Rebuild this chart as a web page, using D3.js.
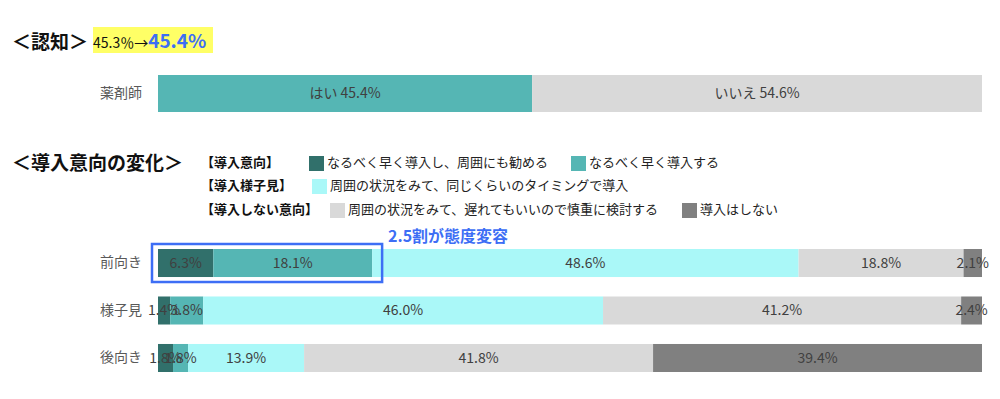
<!DOCTYPE html>
<html><head><meta charset="utf-8">
<script src="https://cdn.jsdelivr.net/npm/d3@7"></script>
<style>
html,body{margin:0;padding:0;background:#fff;}
svg{display:block;font-family:"Noto Sans CJK JP","Noto Sans",sans-serif;}
</style></head>
<body><svg id="c" width="1000" height="399"></svg>
<script>
// ---- data ----
const awarenessCategory = ["薬剤師"];
const awarenessKeys = ["はい", "いいえ"];
const awarenessValues = [45.4, 54.6];

const intentCategories = ["前向き", "様子見", "後向き"];
const intentKeys = ["なるべく早く導入し、周囲にも勧める", "なるべく早く導入する", "周囲の状況をみて、同じくらいのタイミングで導入", "周囲の状況をみて、遅れてもいいので慎重に検討する", "導入はしない"];
const intentFront = [6.3, 18.1, 48.6, 18.8, 2.1];
const intentWait = [1.4, 3.8, 46.0, 41.2, 2.4];
const intentBack = [1.8, 1.8, 13.9, 41.8, 39.4];
const segColors = ["#31706b", "#55b6b4", "#aaf8f8", "#d9d9d9", "#808080"];
const awarenessColors = ["#55b6b4", "#d9d9d9"];

const svg = d3.select("#c");
const x = d3.scaleLinear().domain([0, 1]).range([158, 982]);
const txt = "#404040";

// ---- titles ----
svg.append("text").attr("x", 12).attr("y", 49).attr("font-size", 19).attr("font-weight", "bold").attr("fill", "#111").text("＜認知＞");
svg.append("rect").attr("x", 93).attr("y", 27).attr("width", 120).attr("height", 26).attr("fill", "#ffff66");
const hl = svg.append("text").attr("x", 93).attr("y", 48);
hl.append("tspan").attr("font-size", 14).attr("fill", "#111").text("45.3％→");
hl.append("tspan").attr("font-size", 19).attr("font-weight", "bold").attr("fill", "#3d6ef5").text("45.4%");

// ---- awareness bar ----
const yTop = d3.scaleBand().domain(awarenessCategory).range([75, 112]);
const awRow = Object.fromEntries(awarenessKeys.map((k, i) => [k, awarenessValues[i]]));
const awStack = d3.stack().keys(awarenessKeys).offset(d3.stackOffsetExpand)([awRow]);
const gAw = svg.append("g");
awStack.forEach((s, i) => {
  const d = s[0];
  gAw.append("rect").attr("x", x(d[0])).attr("y", yTop(awarenessCategory[0]))
    .attr("width", x(d[1]) - x(d[0])).attr("height", yTop.bandwidth()).attr("fill", awarenessColors[i]);
  gAw.append("text").attr("x", (x(d[0]) + x(d[1])) / 2).attr("y", yTop(awarenessCategory[0]) + yTop.bandwidth() / 2)
    .attr("dy", "0.35em").attr("text-anchor", "middle").attr("font-size", 14).attr("fill", txt)
    .text(awarenessKeys[i] + " " + awarenessValues[i].toFixed(1) + "%");
});
svg.append("g").attr("transform", `translate(${x(0)},0)`)
  .call(d3.axisLeft(yTop).tickSize(0).tickPadding(16))
  .call(g => g.select(".domain").remove())
  .call(g => g.selectAll("text").attr("font-size", 14).attr("fill", "#595959").attr("font-family", "'Noto Sans CJK JP',sans-serif"));

// ---- second title and legend ----
svg.append("text").attr("x", 12).attr("y", 170).attr("font-size", 19).attr("font-weight", "bold").attr("fill", "#111").text("＜導入意向の変化＞");
const legendRows = [
  {head: "【導入意向】", items: [{k: 0, sx: 309}, {k: 1, sx: 571}], y: 162},
  {head: "【導入様子見】", items: [{k: 2, sx: 312}], y: 185},
  {head: "【導入しない意向】", items: [{k: 3, sx: 330}, {k: 4, sx: 682}], y: 209}
];
const gL = svg.append("g");
legendRows.forEach(r => {
  gL.append("text").attr("x", 201).attr("y", r.y).attr("dy", "0.35em").attr("font-size", 13).attr("font-weight", "bold").attr("fill", "#111").text(r.head);
  r.items.forEach(it => {
    gL.append("rect").attr("x", it.sx).attr("y", r.y - 6).attr("width", 15).attr("height", 15).attr("fill", segColors[it.k]);
    gL.append("text").attr("x", it.sx + 18).attr("y", r.y).attr("dy", "0.35em").attr("font-size", 13).attr("fill", "#222").text(intentKeys[it.k]);
  });
});

// ---- intent bars ----
const yB = d3.scaleBand().domain(intentCategories).range([249, 372]).paddingInner(0.41).paddingOuter(0);
const rowsVals = [intentFront, intentWait, intentBack];
const rows = intentCategories.map((c, i) => {
  const o = {cat: c};
  intentKeys.forEach((k, j) => o[k] = rowsVals[i][j]);
  return o;
});
const stack = d3.stack().keys(intentKeys).offset(d3.stackOffsetExpand)(rows);
const gB = svg.append("g");
stack.forEach((s, j) => {
  gB.selectAll(null).data(s).join("rect")
    .attr("x", d => x(d[0])).attr("y", d => yB(d.data.cat))
    .attr("width", d => x(d[1]) - x(d[0])).attr("height", yB.bandwidth())
    .attr("fill", segColors[j]);
});
stack.forEach((s, j) => {
  gB.selectAll(null).data(s).join("text")
    .attr("x", d => (x(d[0]) + x(d[1])) / 2).attr("y", d => yB(d.data.cat) + yB.bandwidth() / 2)
    .attr("dy", "0.35em").attr("text-anchor", "middle").attr("font-size", 14).attr("fill", txt)
    .text(d => d.data[intentKeys[j]].toFixed(1) + "%");
});
svg.append("g").attr("transform", `translate(${x(0)},0)`)
  .call(d3.axisLeft(yB).tickSize(0).tickPadding(16))
  .call(g => g.select(".domain").remove())
  .call(g => g.selectAll("text").attr("font-size", 14).attr("fill", "#595959").attr("font-family", "'Noto Sans CJK JP',sans-serif"));

// ---- highlight box ----
const f = stack[1][0];
const bx0 = x(0) - 6, bx1 = x(f[1]) + 10;
const by0 = yB(intentCategories[0]) - 5, by1 = yB(intentCategories[0]) + yB.bandwidth() + 5;
svg.append("rect").attr("x", bx0).attr("y", by0).attr("width", bx1 - bx0).attr("height", by1 - by0)
  .attr("fill", "none").attr("stroke", "#3d6ef5").attr("stroke-width", 2.5);
svg.append("text").attr("x", 388).attr("y", 236).attr("dy", "0.35em").attr("font-size", 16).attr("font-weight", "bold").attr("fill", "#3d6ef5").text("2.5割が態度変容");
</script></body></html>
